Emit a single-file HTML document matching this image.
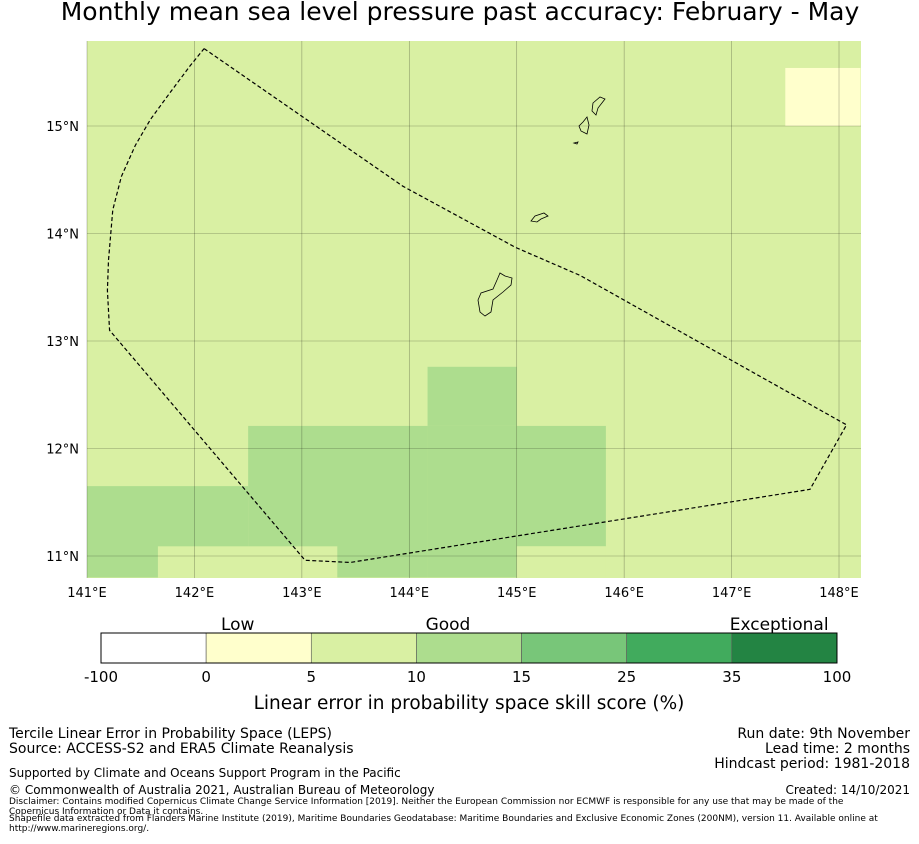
<!DOCTYPE html>
<html><head><meta charset="utf-8">
<style>
body{margin:0;background:#fff;width:919px;height:839px;overflow:hidden;font-family:"Liberation Sans","DejaVu Sans",sans-serif;}
svg text{font-family:"DejaVu Sans","Liberation Sans",sans-serif;}
</style></head>
<body>
<svg id="chart" width="919" height="839">
<text x="460" y="20" text-anchor="middle" font-size="25">Monthly mean sea level pressure past accuracy: February - May</text>
<g id="map"></g>
<g id="cbar"></g>
<g font-size="14">
<text x="9" y="738">Tercile Linear Error in Probability Space (LEPS)</text>
<text x="9" y="753">Source: ACCESS-S2 and ERA5 Climate Reanalysis</text>
<text x="9" y="777" font-size="12">Supported by Climate and Oceans Support Program in the Pacific</text>
<text x="9" y="794" font-size="12">© Commonwealth of Australia 2021, Australian Bureau of Meteorology</text>
<text x="910" y="738" text-anchor="end">Run date: 9th November</text>
<text x="910" y="753" text-anchor="end">Lead time: 2 months</text>
<text x="910" y="768" text-anchor="end">Hindcast period: 1981-2018</text>
<text x="910" y="794" text-anchor="end" font-size="12">Created: 14/10/2021</text>
<text x="9" y="804" font-size="9">Disclaimer: Contains modified Copernicus Climate Change Service Information [2019]. Neither the European Commission nor ECMWF is responsible for any use that may be made of the</text>
<text x="9" y="814" font-size="9">Copernicus Information or Data it contains.</text>
<text x="9" y="821" font-size="9">Shapefile data extracted from Flanders Marine Institute (2019), Maritime Boundaries Geodatabase: Maritime Boundaries and Exclusive Economic Zones (200NM), version 11. Available online at</text>
<text x="9" y="831" font-size="9">http://www.marineregions.org/.</text>
</g>
</svg>
<script>
const lonTicks=[141,142,143,144,145,146,147,148];
const latTicks=[11,12,13,14,15];
const cellLon0=[141,  142.5, 144.17, 144.17, 145,  147.5, 141.66, 145];
const cellLon1=[142.5,144.17,145,   145,    145.83,148.2, 143.33, 145.83];
const cellLat0=[10.8, 10.8,  10.8,  12.21,  11.09, 15.0,  10.8,   10.8];
const cellLat1=[11.65,12.21, 12.21, 12.76,  12.21, 15.54, 11.09,  11.09];
const cellCat=[3,3,3,3,3,1,2,2];
const boundLon=[142.09,143.94,144.99,145.59,148.07,147.73,143.45,143.03,141.21,141.19,141.20,141.24,141.32,141.45,141.59,141.78,141.96,142.09];
const boundLat=[15.72,14.44,13.87,13.61,12.22,11.62,10.94,10.96,13.10,13.47,13.75,14.22,14.53,14.82,15.06,15.32,15.56,15.72];
const cbarTicks=["-100","0","5","10","15","25","35","100"];
const cbarColors=["#ffffff","#ffffcc","#d9f0a3","#addd8e","#78c679","#41ab5d","#238443"];
const cbarCats=["Low","Good","Exceptional"];

const NS="http://www.w3.org/2000/svg";
function el(t,a,p){const e=document.createElementNS(NS,t);for(const k in a)e.setAttribute(k,a[k]);p.appendChild(e);return e;}
const X=lon=>87+(lon-141)*107.43;
const Y=lat=>126+(15-lat)*107.5;
const map=document.getElementById('map');
const L=87,R=861,T=41,B=578;
const bg=el('rect',{x:L,y:T,width:R-L,height:B-T,fill:cbarColors[2]},map);


for(let i=0;i<cellCat.length;i++){
 const x0=Math.max(L,X(cellLon0[i])),x1=Math.min(R,X(cellLon1[i]));
 const y0=Math.max(T,Y(cellLat1[i])),y1=Math.min(B,Y(cellLat0[i]));
 const r=el('rect',{x:x0,y:y0,width:x1-x0,height:y1-y0,fill:cbarColors[cellCat[i]]},map);
 
 
}
lonTicks.forEach(v=>{
 const l=el('line',{x1:X(v),x2:X(v),y1:T,y2:B,stroke:"rgba(0,0,0,0.35)","stroke-width":0.6},map);
 
 
 const t=el('text',{x:X(v),y:597,"text-anchor":"middle","font-size":13},map);t.textContent=v+"°E";
 
 
});
latTicks.forEach(v=>{
 const l=el('line',{x1:L,x2:R,y1:Y(v),y2:Y(v),stroke:"rgba(0,0,0,0.35)","stroke-width":0.6},map);
 
 
 const t=el('text',{x:79,y:Y(v)+5,"text-anchor":"end","font-size":13},map);t.textContent=v+"°N";
 
 
});
const bpath=el('polyline',{points:boundLon.map((v,i)=>X(v)+","+Y(boundLat[i])).join(" "),fill:"none",stroke:"#000","stroke-width":1.2,"stroke-dasharray":"4,2.5"},map);


const islands=["M500,273 L505,276 L512,278 L511,285 L503,292 L493,300 L491,312 L485,316 L480,312 L478,300 L481,293 L493,289 L497,280 Z",
"M531,221 L535,216 L544,213 L548,216 L541,219 L537,222 Z",
"M593,103 L600,97 L605,99 L598,108 L596,115 L592,111 Z",
"M583,122 L587,117 L589,125 L587,134 L581,131 L579,126 Z",
"M574,143 L578,142 L577,144 Z"];
islands.forEach(d=>{const p=el('path',{d:d,fill:"none",stroke:"#000","stroke-width":0.8},map);
 
 });

const cb=document.getElementById('cbar');
const cx0=101,cw=105.14,cy=633,ch=30;
cbarColors.forEach((c,i)=>{
 const r=el('rect',{x:cx0+i*cw,y:cy,width:cw,height:ch,fill:c,stroke:"#555","stroke-width":0.6},cb);
 
 
});
el('rect',{x:cx0,y:cy,width:cw*7,height:ch,fill:"none",stroke:"#000","stroke-width":1},cb);
cbarTicks.forEach((s,i)=>{
 const t=el('text',{x:cx0+i*cw,y:682,"text-anchor":"middle","font-size":15},cb);t.textContent=s;
 
 
});
[[1.3,0],[3.3,1],[6.45,2]].forEach(([p,i])=>{
 const t=el('text',{x:cx0+p*cw,y:630,"text-anchor":"middle","font-size":17},cb);t.textContent=cbarCats[i];
 
 
});
const ct=el('text',{x:469,y:709,"text-anchor":"middle","font-size":18.5},cb);
ct.textContent="Linear error in probability space skill score (%)";


</script>
</body></html>
